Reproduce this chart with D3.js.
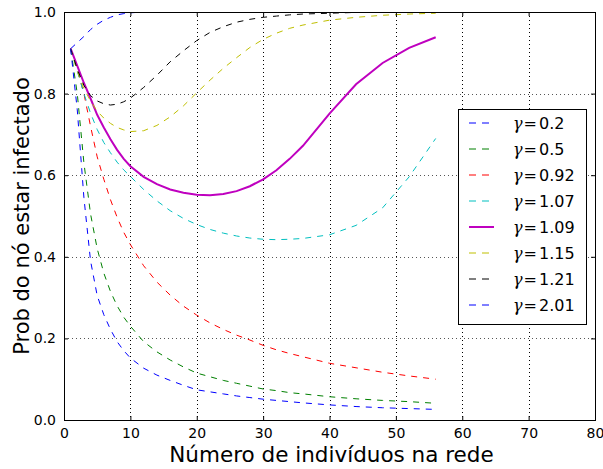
<!DOCTYPE html>
<html>
<head>
<meta charset="utf-8">
<script src="https://cdn.jsdelivr.net/npm/d3@7"></script>
<style>
    body { margin: 0; background: #fff; }
    svg { display: block; font-family: "DejaVu Sans", sans-serif; }
    .series { fill: none; }
</style>
</head>
<body>
<svg id="chart" width="603" height="469"></svg>
<script>
// x positions shared by every series (network size)
const xValues = [1, 2, 3, 4, 5, 6, 7, 8, 9, 10, 12, 14, 16, 18, 20, 22, 24, 26, 28, 30, 32, 34, 36, 40, 44, 48, 52, 56];

const gammaLabels = ['0.2', '0.5', '0.92', '1.07', '1.09', '1.15', '1.21', '2.01'];
const seriesColors = ['#0000ff', '#008000', '#ff0000', '#00bfbf', '#bf00bf', '#bfbf00', '#000000', '#0000ff'];

const g020 = [0.91, 0.925, 0.94, 0.957, 0.97, 0.98, 0.987, 0.993, 0.996, 0.998, 1, 1, 1, 1, 1, 1, 1, 1, 1, 1, 1, 1, 1, 1, 1, 1, 1, 1];
const g050 = [0.91, 0.80, 0.63, 0.505, 0.42, 0.36, 0.315, 0.28, 0.252, 0.23, 0.192, 0.167, 0.147, 0.13, 0.115, 0.106, 0.097, 0.09, 0.083, 0.076, 0.072, 0.067, 0.064, 0.057, 0.052, 0.048, 0.045, 0.041];
const g092 = [0.91, 0.86, 0.80, 0.72, 0.645, 0.59, 0.54, 0.497, 0.46, 0.43, 0.378, 0.338, 0.306, 0.279, 0.257, 0.238, 0.222, 0.208, 0.196, 0.183, 0.172, 0.163, 0.155, 0.139, 0.128, 0.117, 0.108, 0.10];
const g107 = [0.91, 0.855, 0.80, 0.752, 0.712, 0.68, 0.655, 0.632, 0.613, 0.597, 0.565, 0.537, 0.513, 0.494, 0.479, 0.467, 0.458, 0.451, 0.446, 0.443, 0.442, 0.443, 0.445, 0.454, 0.477, 0.52, 0.596, 0.69];
const g109 = [0.91, 0.868, 0.826, 0.788, 0.748, 0.717, 0.688, 0.662, 0.64, 0.622, 0.596, 0.578, 0.565, 0.557, 0.552, 0.551, 0.554, 0.561, 0.573, 0.59, 0.612, 0.64, 0.672, 0.751, 0.823, 0.875, 0.912, 0.938];
const g115 = [0.91, 0.855, 0.812, 0.782, 0.757, 0.74, 0.727, 0.717, 0.711, 0.707, 0.709, 0.722, 0.743, 0.77, 0.802, 0.833, 0.862, 0.888, 0.913, 0.933, 0.948, 0.96, 0.968, 0.98, 0.987, 0.992, 0.995, 0.997];
const g121 = [0.91, 0.86, 0.82, 0.795, 0.782, 0.775, 0.772, 0.774, 0.78, 0.789, 0.815, 0.845, 0.878, 0.905, 0.93, 0.95, 0.964, 0.975, 0.982, 0.987, 0.99, 0.993, 0.995, 0.997, 0.999, 1, 1, 1];
const g201 = [0.91, 0.76, 0.545, 0.39, 0.305, 0.258, 0.222, 0.192, 0.17, 0.152, 0.127, 0.11, 0.097, 0.085, 0.074, 0.069, 0.064, 0.059, 0.055, 0.051, 0.048, 0.045, 0.042, 0.037, 0.033, 0.03, 0.028, 0.026];

const seriesValues = [g020, g050, g092, g107, g109, g115, g121, g201];

const xTicks = [0, 10, 20, 30, 40, 50, 60, 70, 80];
const yTicks = [0.0, 0.2, 0.4, 0.6, 0.8, 1.0];

class InfectionChart {
    constructor() {
        this.svg = d3.select('#chart');
        this.margin = { left: 64, right: 8, top: 12, bottom: 49 };
        this.width = 603 - this.margin.left - this.margin.right;
        this.height = 469 - this.margin.top - this.margin.bottom;

        this.x = d3.scaleLinear().domain([0, 80]).range([0, this.width]);
        this.y = d3.scaleLinear().domain([0, 1]).range([this.height, 0]);

        // one record per curve, built from the arrays above
        this.series = gammaLabels.map((label, i) => ({
            label: label,
            color: seriesColors[i],
            solid: label === '1.09',
            values: seriesValues[i]
        }));

        this.g = this.svg.append('g')
            .attr('transform', `translate(${this.margin.left},${this.margin.top})`);

        this.drawGrid();
        this.drawSeries();
        this.drawFrame();
        this.drawLabels();
        this.drawLegend();
    }

    drawGrid() {
        const grid = this.g.append('g');
        grid.selectAll('.vx')
            .data(xTicks.slice(1, -1))
            .join('line')
            .attr('x1', d => Math.round(this.x(d)) + 0.5)
            .attr('x2', d => Math.round(this.x(d)) + 0.5)
            .attr('y1', 0)
            .attr('y2', this.height)
            .attr('stroke', '#000')
            .attr('stroke-dasharray', '1,3');
        grid.selectAll('.hy')
            .data(yTicks.slice(1, -1))
            .join('line')
            .attr('y1', d => Math.round(this.y(d)) + 0.5)
            .attr('y2', d => Math.round(this.y(d)) + 0.5)
            .attr('x1', 0)
            .attr('x2', this.width)
            .attr('stroke', '#555')
            .attr('stroke-dasharray', '1,3');
    }

    drawSeries() {
        this.svg.append('defs').append('clipPath').attr('id', 'plotClip')
            .append('rect').attr('width', this.width).attr('height', this.height);

        const line = d3.line()
            .x((d, i) => this.x(xValues[i]))
            .y(d => this.y(d));

        this.g.append('g')
            .attr('clip-path', 'url(#plotClip)')
            .selectAll('path')
            .data(this.series)
            .join('path')
            .attr('class', 'series')
            .attr('d', d => line(d.values))
            .style('stroke', d => d.color)
            .style('stroke-width', d => d.solid ? 2 : 1)
            .style('stroke-dasharray', d => d.solid ? null : '6,6');
    }

    drawFrame() {
        const tickLen = 4;
        const xAxis = d3.axisBottom(this.x).tickValues(xTicks).tickSize(-tickLen).tickPadding(8).tickFormat(d3.format('d'));
        const xTop = d3.axisTop(this.x).tickValues(xTicks).tickSize(-tickLen).tickFormat('');
        const yAxis = d3.axisLeft(this.y).tickValues(yTicks).tickSize(-tickLen).tickPadding(8).tickFormat(d3.format('.1f'));
        const yRight = d3.axisRight(this.y).tickValues(yTicks).tickSize(-tickLen).tickFormat('');

        const styleAxis = sel => {
            sel.select('.domain').remove();
            sel.selectAll('line').attr('stroke', '#000');
            sel.selectAll('text').attr('font-size', 14).attr('fill', '#000').attr('font-family', '"DejaVu Sans", sans-serif');
        };

        this.g.append('g').attr('transform', `translate(0,${this.height})`).call(xAxis).call(styleAxis);
        this.g.append('g').call(xTop).call(styleAxis);
        this.g.append('g').call(yAxis).call(styleAxis);
        this.g.append('g').attr('transform', `translate(${this.width},0)`).call(yRight).call(styleAxis);

        this.g.append('rect')
            .attr('x', 0.5).attr('y', 0.5)
            .attr('width', this.width).attr('height', this.height)
            .attr('fill', 'none').attr('stroke', '#000').attr('stroke-width', 1);
    }

    drawLabels() {
        this.svg.append('text')
            .attr('x', this.margin.left + this.width / 2 + 2)
            .attr('y', 462)
            .attr('text-anchor', 'middle')
            .attr('font-size', 21.5)
            .text('Número de indivíduos na rede');

        this.svg.append('text')
            .attr('transform', `translate(29,${this.margin.top + this.height / 2}) rotate(-90)`)
            .attr('text-anchor', 'middle')
            .attr('font-size', 21)
            .text('Prob do nó estar infectado');
    }

    drawLegend() {
        const legend = this.svg.append('g').attr('transform', 'translate(458,109)');
        legend.append('rect')
            .attr('x', 0.5).attr('y', 0.5)
            .attr('width', 128).attr('height', 215)
            .attr('fill', '#fff').attr('stroke', '#000');

        const rows = legend.selectAll('.entry')
            .data(this.series)
            .join('g')
            .attr('class', 'entry')
            .attr('transform', (d, i) => `translate(0,${14 + i * 26})`);

        // dashed samples drawn as two explicit segments, solid one as a single stroke
        rows.append('path')
            .attr('d', d => d.solid ? 'M11,0H36' : 'M11,0H18M24,0H31')
            .style('fill', 'none')
            .style('stroke', d => d.color)
            .style('stroke-width', d => d.solid ? 2 : 1.2);

        const label = rows.append('text')
            .attr('x', 55)
            .attr('y', 6)
            .attr('font-size', 16);
        label.append('tspan').attr('font-style', 'italic').attr('font-family', '"DejaVu Serif", serif').text('γ');
        label.append('tspan').attr('dx', 1).text('=');
        label.append('tspan').attr('dx', 2).text(d => d.label);
    }
}

document.addEventListener('DOMContentLoaded', () => {
    window.infectionChart = new InfectionChart();
});
</script>
</body>
</html>
